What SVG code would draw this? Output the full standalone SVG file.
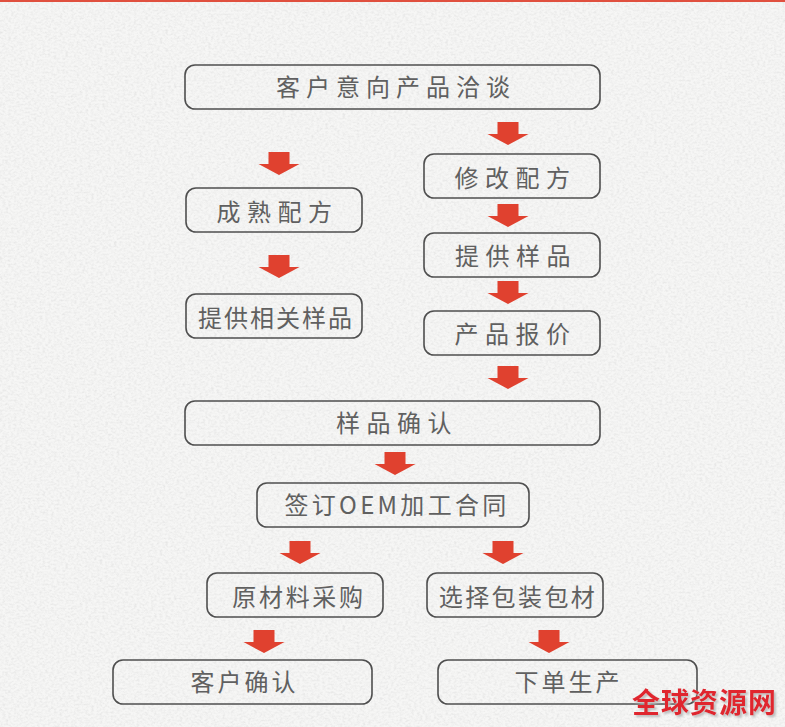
<svg xmlns="http://www.w3.org/2000/svg" width="785" height="727" viewBox="0 0 785 727">
<style>
.b{fill:none;stroke:#4f4f4f;stroke-width:1.6}
.t{font-family:"Noto Sans CJK SC","Noto Sans",sans-serif;font-size:24px;fill:#606060;text-anchor:middle;dominant-baseline:central}
.a{fill:#e0412f}
.w{font-family:"Noto Sans CJK SC",sans-serif;font-size:28px;font-weight:700;letter-spacing:1px;fill:#e0252f;filter:url(#sh)}
</style>
<defs>
<path id="arr" d="M-10.5 0H10.5V12H20.5L0 23L-20.5 12H-10.5Z"/>
<filter id="sh" x="-10%" y="-20%" width="120%" height="150%"><feDropShadow dx="2" dy="2" stdDeviation="1" flood-color="#bbbbbb"/></filter>
<filter id="paper" x="0" y="0" width="100%" height="100%"><feTurbulence type="fractalNoise" baseFrequency="0.35 0.5" numOctaves="2" seed="4"/><feColorMatrix values="0 0 0 0 0.6  0 0 0 0 0.6  0 0 0 0 0.6  0.5 0.5 0 0 -0.42"/></filter>
</defs>
<rect width="785" height="727" fill="#f6f6f5"/>
<rect width="785" height="727" filter="url(#paper)"/>
<rect width="785" height="2" fill="#e0503f"/>
<g id="connectors" class="a">
<use href="#arr" x="508" y="122"/>
<use href="#arr" x="279" y="152"/>
<use href="#arr" x="508" y="204"/>
<use href="#arr" x="279" y="255"/>
<use href="#arr" x="508" y="281"/>
<use href="#arr" x="508" y="366"/>
<use href="#arr" x="395" y="452"/>
<use href="#arr" x="300" y="541"/>
<use href="#arr" x="503" y="541"/>
<use href="#arr" x="264" y="630"/>
<use href="#arr" x="549" y="630"/>
</g>
<g id="n1"><rect class="b" x="185" y="65" width="415" height="44" rx="10"/><text class="t" x="396" y="85" letter-spacing="6">客户意向产品洽谈</text></g>
<g id="n2"><rect class="b" x="186" y="188" width="176" height="44" rx="10"/><text class="t" x="277.500" y="210" letter-spacing="6.500">成熟配方</text></g>
<g id="n3"><rect class="b" x="424" y="154" width="176" height="44" rx="10"/><text class="t" x="515.500" y="176" letter-spacing="6.500">修改配方</text></g>
<g id="n4"><rect class="b" x="424" y="233" width="176" height="44" rx="10"/><text class="t" x="516" y="254" letter-spacing="6.500">提供样品</text></g>
<g id="n5"><rect class="b" x="186" y="294" width="176" height="44" rx="10"/><text class="t" x="276" y="316" letter-spacing="2">提供相关样品</text></g>
<g id="n6"><rect class="b" x="424" y="311" width="176" height="44" rx="10"/><text class="t" x="515.500" y="332" letter-spacing="6.500">产品报价</text></g>
<g id="n7"><rect class="b" x="185" y="401" width="415" height="44" rx="10"/><text class="t" x="397" y="421" letter-spacing="6.500">样品确认</text></g>
<g id="n8"><rect class="b" x="257" y="483" width="272" height="44" rx="10"/><text class="t" x="397" y="503" letter-spacing="3.300">签订OEM加工合同</text></g>
<g id="n9"><rect class="b" x="207" y="573" width="176" height="44" rx="10"/><text class="t" x="299" y="595" letter-spacing="2.700">原材料采购</text></g>
<g id="n10"><rect class="b" x="427" y="573" width="176" height="44" rx="10"/><text class="t" x="518" y="595" letter-spacing="2.400">选择包装包材</text></g>
<g id="n11"><rect class="b" x="113" y="660" width="259" height="44" rx="10"/><text class="t" x="244.500" y="680" letter-spacing="3">客户确认</text></g>
<g id="n12"><rect class="b" x="438" y="660" width="259" height="44" rx="10"/><text class="t" x="568.500" y="680" letter-spacing="3">下单生产</text></g>
<g id="watermark"><text class="w" x="632" y="713">全球资源网</text></g>
</svg>
